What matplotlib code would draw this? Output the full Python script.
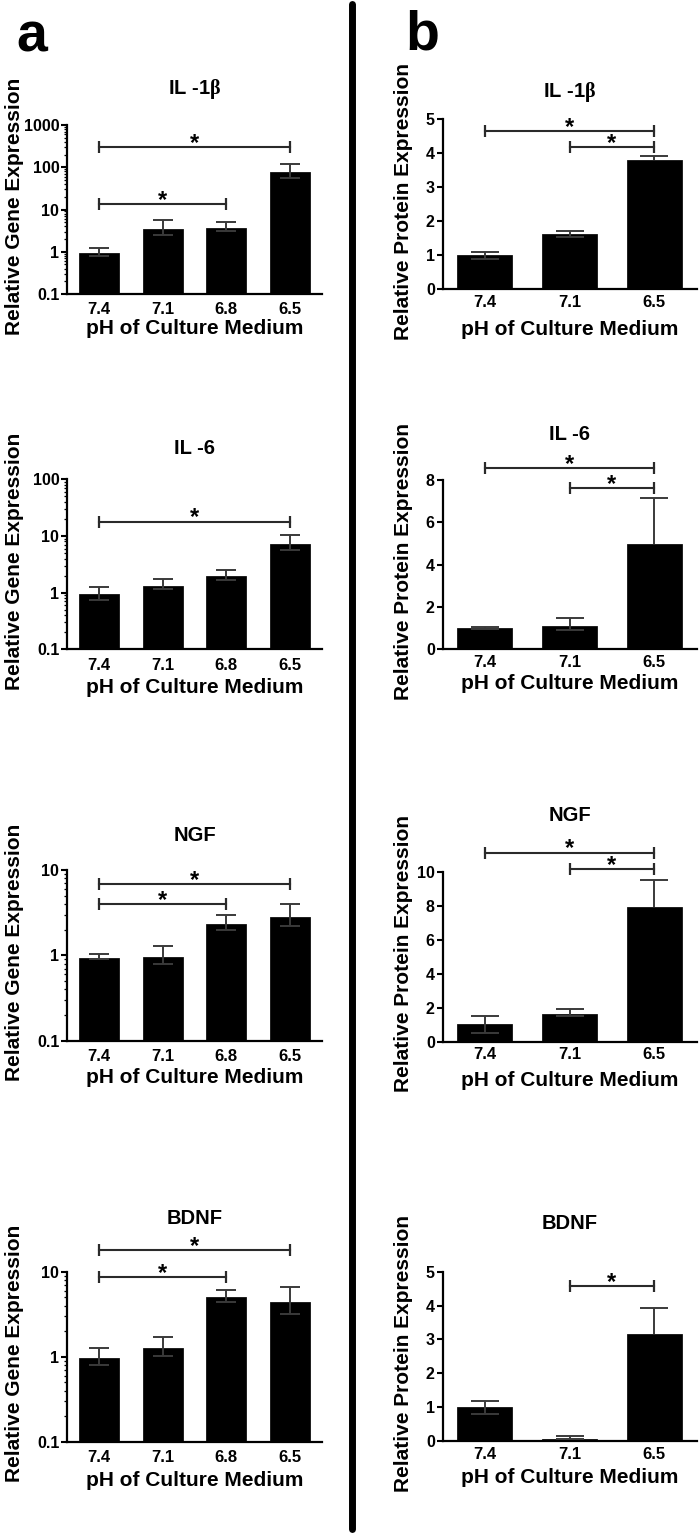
import matplotlib
matplotlib.use('Agg')
import matplotlib.pyplot as plt
from matplotlib.lines import Line2D
from matplotlib.ticker import FixedLocator, FixedFormatter, LogLocator, NullFormatter
import numpy as np

plt.rcParams['font.family'] = ['Liberation Sans', 'DejaVu Sans']
plt.rcParams['font.weight'] = 'bold'
plt.rcParams['mathtext.fontset'] = 'custom'
plt.rcParams['mathtext.rm'] = 'Liberation Serif'
plt.rcParams['mathtext.it'] = 'Liberation Serif'
plt.rcParams['mathtext.bf'] = 'Liberation Serif:bold'

# ---------------- data ----------------
ph_gene = ['7.4', '7.1', '6.8', '6.5']
ph_prot = ['7.4', '7.1', '6.5']

titles = [r'IL -1$\beta$', 'IL -6', 'NGF', 'BDNF']

# (a) relative gene expression (log scale), mean, lower err, upper err
il1b_gene = [0.92, 3.45, 3.65, 76.0]
il1b_gene_lo = [0.11, 0.95, 0.49, 21.3]
il1b_gene_hi = [0.28, 2.05, 1.45, 45.0]

il6_gene = [0.93, 1.32, 1.94, 7.2]
il6_gene_lo = [0.19, 0.16, 0.27, 1.6]
il6_gene_hi = [0.34, 0.42, 0.59, 3.1]

ngf_gene = [0.94, 0.95, 2.35, 2.84]
ngf_gene_lo = [0.04, 0.16, 0.35, 0.65]
ngf_gene_hi = [0.09, 0.34, 0.62, 1.13]

bdnf_gene = [0.96, 1.26, 5.0, 4.36]
bdnf_gene_lo = [0.16, 0.23, 0.6, 1.16]
bdnf_gene_hi = [0.29, 0.46, 1.1, 2.24]

# (b) relative protein expression (linear scale)
il1b_prot = [1.01, 1.62, 3.80]
il1b_prot_lo = [0.13, 0.07, 0.0]
il1b_prot_hi = [0.09, 0.10, 0.11]

il6_prot = [1.02, 1.11, 4.97]
il6_prot_lo = [0.05, 0.20, 0.0]
il6_prot_hi = [0.03, 0.38, 2.17]

ngf_prot = [1.04, 1.65, 7.92]
ngf_prot_lo = [0.55, 0.13, 0.0]
ngf_prot_hi = [0.47, 0.29, 1.57]

bdnf_prot = [1.01, 0.07, 3.16]
bdnf_prot_lo = [0.21, 0.02, 0.0]
bdnf_prot_hi = [0.18, 0.08, 0.78]

# significance brackets: (from index, to index, height)
il1b_gene_sig = [(0, 3, 301), (0, 2, 13.3)]
il6_gene_sig = [(0, 3, 17.9)]
ngf_gene_sig = [(0, 3, 6.8), (0, 2, 4.0)]
bdnf_gene_sig = [(0, 3, 18.0), (0, 2, 8.7)]

il1b_prot_sig = [(0, 2, 4.65), (1, 2, 4.19)]
il6_prot_sig = [(0, 2, 8.57), (1, 2, 7.62)]
ngf_prot_sig = [(0, 2, 11.12), (1, 2, 10.16)]
bdnf_prot_sig = [(1, 2, 4.57)]

# axis ticks
gene_ticks = [[0.1, 1, 10, 100, 1000], [0.1, 1, 10, 100], [0.1, 1, 10], [0.1, 1, 10]]
gene_ticklabels = [['0.1', '1', '10', '100', '1000'], ['0.1', '1', '10', '100'],
                   ['0.1', '1', '10'], ['0.1', '1', '10']]
prot_ticks = [[0, 1, 2, 3, 4, 5], [0, 2, 4, 6, 8], [0, 2, 4, 6, 8, 10], [0, 1, 2, 3, 4, 5]]

# ---------------- layout ----------------
W, H = 700, 1535
fig = plt.figure(figsize=(W / 100, H / 100), dpi=100)


def fx(x):
    return x / W


def fy(y):
    return 1 - y / H


ERRC = '#3a3a3a'


def panel(xr, yr, cats, vals, lo, hi, sig, log, ticks, ticklabels, title,
          title_y, xlabel_y, ylabel, ylabel_x, width, capw, xpad):
    x0, x1 = xr
    y0, y1 = yr
    ax = fig.add_axes([fx(x0), fy(y1), (x1 - x0) / W, (y1 - y0) / H])
    n = len(cats)
    xs = np.arange(n)
    vals = np.array(vals)
    lo = np.array(lo)
    hi = np.array(hi)
    if log:
        ax.set_yscale('log')
        base = ticks[0]
    else:
        base = 0
    ax.bar(xs, vals - base, bottom=base, width=width, color='black',
           edgecolor='#111111', linewidth=0.6, zorder=2)
    # error bars
    ax.vlines(xs, vals - lo, vals + hi, color=ERRC, lw=1.4, zorder=3)
    ax.plot(xs, vals + hi, ls='none', marker='_', ms=capw, mew=1.4,
            color=ERRC, zorder=3)
    m = lo > 0
    ax.plot(xs[m], (vals - lo)[m], ls='none', marker='_', ms=capw, mew=1.4,
            color=ERRC, zorder=3)
    ax.set_xlim(-0.5, n - 0.5)
    ax.set_ylim(ticks[0], ticks[-1])
    ax.yaxis.set_major_locator(FixedLocator(ticks))
    ax.yaxis.set_major_formatter(FixedFormatter(ticklabels))
    if log:
        ax.yaxis.set_minor_locator(LogLocator(base=10, subs=np.arange(2, 10)))
        ax.yaxis.set_minor_formatter(NullFormatter())
    ax.set_xticks(xs)
    ax.set_xticklabels(cats)
    for s in ['top', 'right']:
        ax.spines[s].set_visible(False)
    for s in ['left', 'bottom']:
        ax.spines[s].set_linewidth(1.6)
    ax.tick_params(axis='y', which='major', direction='out', length=4.5,
                   width=1.5, labelsize=11.5, pad=1)
    ax.tick_params(axis='y', which='minor', direction='out', length=2.2,
                   width=0.9)
    ax.tick_params(axis='x', length=0, labelsize=12, pad=xpad)
    for lab in ax.get_xticklabels() + ax.get_yticklabels():
        lab.set_fontweight('bold')
    # significance brackets
    for i, j, yb in sig:
        ax.plot([i, j], [yb, yb], color='#2a2a2a', lw=1.5, marker='|', ms=9,
                mew=1.6, clip_on=False, zorder=4)
        ax.annotate('*', xy=((i + j) / 2, yb), xytext=(0, -2),
                    textcoords='offset points', ha='center', va='baseline',
                    fontsize=17, fontweight='bold', annotation_clip=False)
    cx = (x0 + x1) / 2
    fig.text(fx(cx), fy(title_y + 7.2), title, ha='center', va='baseline',
             fontsize=14.5, fontweight='bold')
    fig.text(fx(cx), fy(xlabel_y), 'pH of Culture Medium', ha='center',
             va='center', fontsize=15, fontweight='bold')
    fig.text(fx(ylabel_x), fy((y0 + y1) / 2 - 3), ylabel, ha='center',
             va='center', rotation=90, fontsize=15, fontweight='bold')
    return ax


gene_vals = [il1b_gene, il6_gene, ngf_gene, bdnf_gene]
gene_lo = [il1b_gene_lo, il6_gene_lo, ngf_gene_lo, bdnf_gene_lo]
gene_hi = [il1b_gene_hi, il6_gene_hi, ngf_gene_hi, bdnf_gene_hi]
gene_sig = [il1b_gene_sig, il6_gene_sig, ngf_gene_sig, bdnf_gene_sig]

prot_vals = [il1b_prot, il6_prot, ngf_prot, bdnf_prot]
prot_lo = [il1b_prot_lo, il6_prot_lo, ngf_prot_lo, bdnf_prot_lo]
prot_hi = [il1b_prot_hi, il6_prot_hi, ngf_prot_hi, bdnf_prot_hi]
prot_sig = [il1b_prot_sig, il6_prot_sig, ngf_prot_sig, bdnf_prot_sig]

a_rows = [(125, 294), (479.3, 649.3), (870, 1040.7), (1271.7, 1441.7)]
b_rows = [(119.3, 289.3), (480, 649.3), (871.7, 1041.7), (1271.7, 1441)]
a_title_y = [87, 446.7, 833.3, 1216.7]
b_title_y = [90, 433.3, 813.3, 1221.7]
a_xlab_y = [328.3, 687.5, 1077.5, 1480.8]
b_xlab_y = [329.2, 684, 1080.8, 1477.5]

for k in range(4):
    panel((67, 322), a_rows[k], ph_gene, gene_vals[k], gene_lo[k], gene_hi[k],
          gene_sig[k], True, gene_ticks[k], gene_ticklabels[k], titles[k],
          a_title_y[k], a_xlab_y[k], 'Relative Gene Expression', 15,
          0.63, 14, 6)
    panel((442.5, 696.5), b_rows[k], ph_prot, prot_vals[k], prot_lo[k],
          prot_hi[k], prot_sig[k], False, prot_ticks[k],
          [str(t) for t in prot_ticks[k]], titles[k], b_title_y[k],
          b_xlab_y[k], 'Relative Protein Expression', 403.5, 0.65, 20, 4)

# panel letters
fig.text(fx(16), fy(52), 'a', fontsize=40, fontweight='bold', ha='left',
         va='baseline')
fig.text(fx(405), fy(50), 'b', fontsize=40, fontweight='bold', ha='left',
         va='baseline')

# divider
fig.add_artist(Line2D([fx(352), fx(352)], [fy(4), fy(1529)], lw=5,
                      color='black', solid_capstyle='round'))

fig.savefig('out.png', dpi=100)
